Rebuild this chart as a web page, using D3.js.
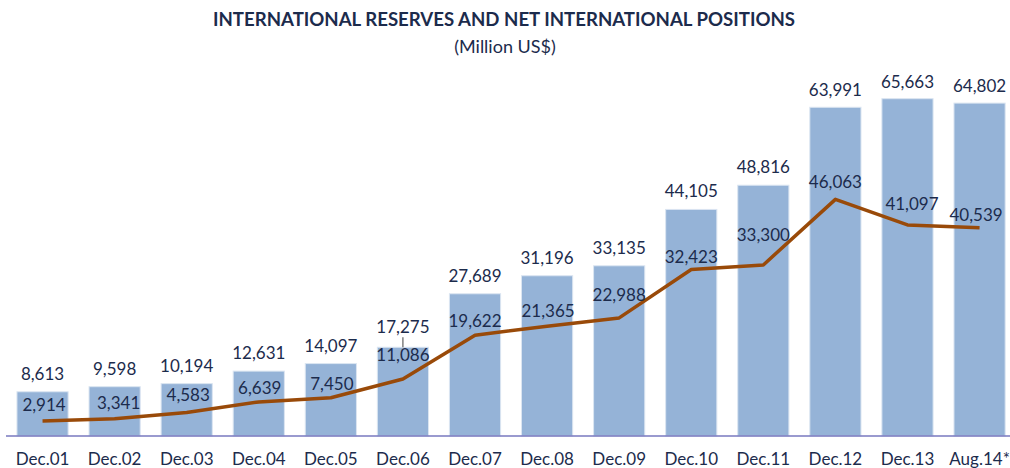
<!DOCTYPE html>
<html>
<head>
<meta charset="utf-8">
<script src="https://cdn.jsdelivr.net/npm/d3@7/dist/d3.min.js"></script>
<style>
  html, body { margin: 0; padding: 0; background: #ffffff; }
  svg { display: block; }
</style>
</head>
<body>
<div id="chart"></div>
<script>
const categories = ["Dec.01","Dec.02","Dec.03","Dec.04","Dec.05","Dec.06","Dec.07","Dec.08","Dec.09","Dec.10","Dec.11","Dec.12","Dec.13","Aug.14*"];
const reserves = [8613, 9598, 10194, 12631, 14097, 17275, 27689, 31196, 33135, 44105, 48816, 63991, 65663, 64802];
const netPositions = [2914, 3341, 4583, 6639, 7450, 11086, 19622, 21365, 22988, 32423, 33300, 46063, 41097, 40539];
const titleText = "INTERNATIONAL RESERVES AND NET INTERNATIONAL POSITIONS";
const subtitleText = "(Million US$)";

const W = 1010, H = 468;
const font = "Lato, 'Open Sans', sans-serif";
const textColor = "#1c2b4c";

const svg = d3.select("#chart").append("svg").attr("width", W).attr("height", H);

const x = d3.scaleBand().domain(categories).range([6.5, 1015.6]).paddingInner(0.29).paddingOuter(0.145);
const y = d3.scaleLinear().domain([0, 70000]).range([436, 76.4]);
const fmt = d3.format(",");

// title
svg.append("text").attr("x", 504).attr("y", 26).attr("text-anchor", "middle")
  .attr("font-family", font).attr("font-weight", "bold").attr("font-size", 18.5)
  .attr("textLength", 582).attr("lengthAdjust", "spacingAndGlyphs")
  .attr("fill", textColor).text(titleText);
svg.append("text").attr("x", 505).attr("y", 53).attr("text-anchor", "middle")
  .attr("font-family", font).attr("font-size", 18)
  .attr("fill", textColor).text(subtitleText);

// bars
svg.append("g").selectAll("rect").data(reserves).join("rect")
  .attr("x", (d, i) => x(categories[i]))
  .attr("width", x.bandwidth())
  .attr("y", d => y(d))
  .attr("height", d => y(0) - y(d))
  .attr("fill", "#95b3d7")
  .attr("stroke", "#dbe5f1")
  .attr("stroke-width", 1);

// axis
const axis = svg.append("g").attr("transform", `translate(0,${y(0)})`)
  .call(d3.axisBottom(x).tickSize(0).tickPadding(17));
axis.select(".domain").remove();
axis.selectAll("text").attr("font-family", font).attr("font-size", 17).attr("fill", textColor);
svg.append("line").attr("x1", 6).attr("x2", 1010).attr("y1", y(0)).attr("y2", y(0))
  .attr("stroke", "#7878bf").attr("stroke-width", 1.5);

// line
const line = d3.line().x((d, i) => x(categories[i]) + x.bandwidth() / 2).y(d => y(d));
svg.append("path").datum(netPositions).attr("d", line)
  .attr("fill", "none").attr("stroke", "#994a09").attr("stroke-width", 3.5)
  .attr("stroke-linejoin", "round").attr("stroke-linecap", "butt");

// bar labels
const barLabelDy = [-18, -18, -18, -18, -18, -20, -18, -18, -18, -18, -18, -17, -17, -17];
svg.append("g").selectAll("text").data(reserves).join("text")
  .attr("x", (d, i) => x(categories[i]) + x.bandwidth() / 2)
  .attr("y", (d, i) => y(d) + barLabelDy[i])
  .attr("dy", "0.35em")
  .attr("text-anchor", "middle")
  .attr("font-family", font).attr("font-size", 17).attr("fill", textColor)
  .text(d => fmt(d));

// leader line at Dec.06
const li = 5;
svg.append("line")
  .attr("x1", x(categories[li]) + x.bandwidth() / 2).attr("x2", x(categories[li]) + x.bandwidth() / 2)
  .attr("y1", y(reserves[li]) - 10).attr("y2", y(reserves[li]))
  .attr("stroke", "#404040").attr("stroke-width", 1);

// line labels
const lineLabelDy = [-16, -16, -17.5, -14, -14, -24, -14, -15, -23, -12, -30, -17, -21, -13];
const lineLabelDx = [1.5, 4, 1.5, 1, 1, 0, 0, 1, 0, 0, 0, 0, 4.5, -3.5];
svg.append("g").selectAll("text").data(netPositions).join("text")
  .attr("x", (d, i) => x(categories[i]) + x.bandwidth() / 2 + lineLabelDx[i])
  .attr("y", (d, i) => y(d) + lineLabelDy[i])
  .attr("dy", "0.35em")
  .attr("text-anchor", "middle")
  .attr("font-family", font).attr("font-size", 17).attr("fill", textColor)
  .text(d => fmt(d));
</script>
</body>
</html>
